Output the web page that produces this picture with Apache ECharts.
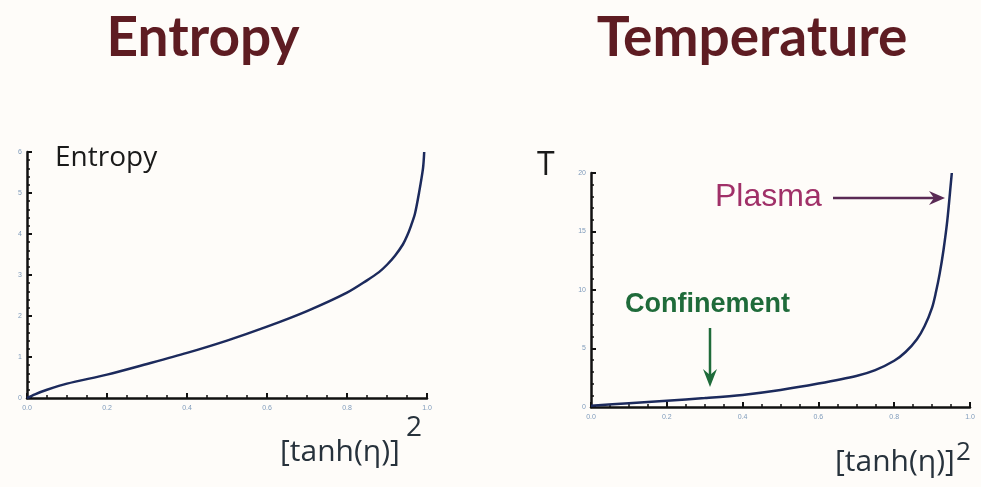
<!DOCTYPE html>
<html>
<head>
<meta charset="utf-8">
<script src="https://cdn.jsdelivr.net/npm/echarts@6/dist/echarts.min.js"></script>
<style>
html,body{margin:0;padding:0;background:#fefcf9;}
#chart{width:981px;height:487px;}
</style>
</head>
<body>
<div id="chart"></div>
<script>
// ---- data ----
const entropyX = [0, 0.02, 0.05, 0.1, 0.2, 0.3, 0.4, 0.5, 0.6, 0.7, 0.8, 0.85, 0.88, 0.9, 0.92, 0.94, 0.95, 0.96, 0.97, 0.98, 0.99, 0.993];
const entropyY = [0, 0.09, 0.2, 0.35, 0.57, 0.83, 1.1, 1.4, 1.74, 2.12, 2.57, 2.87, 3.07, 3.25, 3.47, 3.75, 3.95, 4.2, 4.5, 5.0, 5.6, 6.0];
const tempX = [0, 0.1, 0.2, 0.3, 0.4, 0.5, 0.6, 0.7, 0.75, 0.8, 0.83, 0.86, 0.88, 0.9, 0.91, 0.92, 0.93, 0.94, 0.95, 0.952];
const tempY = [0.1, 0.32, 0.54, 0.76, 1.03, 1.45, 2.0, 2.65, 3.15, 3.95, 4.7, 5.8, 6.9, 8.5, 9.8, 11.4, 13.4, 15.9, 19.3, 20];
const xTickLabels = ['0.0', '0.2', '0.4', '0.6', '0.8', '1.0'];
const titles = ['Entropy', 'Temperature'];
const xName = '[tanh(η)]';

const chart = echarts.init(document.getElementById('chart'), null, {renderer: 'canvas'});

function xAxisCfg(gridIndex) {
  return {
    type: 'value', gridIndex: gridIndex, min: 0, max: 1, interval: 0.2,
    axisLine: {show: true, onZero: false, lineStyle: {color: '#111', width: 2.5}},
    axisTick: {show: true, inside: true, length: 5, lineStyle: {color: '#111', width: 2}},
    minorTick: {show: true, splitNumber: 4, length: 3, lineStyle: {color: '#111', width: 1.5}},
    splitLine: {show: false},
    axisLabel: {fontSize: 7, color: '#7f9bbb', margin: 7,
      formatter: function (v) { return xTickLabels[Math.round(v / 0.2)]; }}
  };
}
function yAxisCfg(gridIndex, max, interval, minorSplit) {
  return {
    type: 'value', gridIndex: gridIndex, min: 0, max: max, interval: interval,
    axisLine: {show: true, onZero: false, lineStyle: {color: '#111', width: 2.5}},
    axisTick: {show: true, inside: true, length: 5, lineStyle: {color: '#111', width: 2}},
    minorTick: {show: true, splitNumber: minorSplit, length: 3, lineStyle: {color: '#111', width: 1.5}},
    splitLine: {show: false},
    axisLabel: {fontSize: 7, color: '#7f9bbb', margin: 5}
  };
}

const curveStyle = {color: '#1c2a5c', width: 2.5};

chart.setOption({
  backgroundColor: '#fefcf9',
  animation: false,
  grid: [
    {left: 27, right: 554, top: 152, bottom: 89},
    {left: 591, right: 11, top: 173, bottom: 80}
  ],
  xAxis: [xAxisCfg(0), xAxisCfg(1)],
  yAxis: [yAxisCfg(0, 6, 1, 5), yAxisCfg(1, 20, 5, 5)],
  series: [
    {type: 'line', xAxisIndex: 0, yAxisIndex: 0, showSymbol: false, smooth: 0.3,
     lineStyle: curveStyle, data: entropyX.map((x, i) => [x, entropyY[i]])},
    {type: 'line', xAxisIndex: 1, yAxisIndex: 1, showSymbol: false, smooth: 0.3,
     lineStyle: curveStyle, data: tempX.map((x, i) => [x, tempY[i]])}
  ],
  graphic: [
    {type: 'text', style: {text: titles[0], x: 203, y: 38, align: 'center', verticalAlign: 'middle',
      font: 'bold 55px Lato', fill: '#5e1c22'}},
    {type: 'text', style: {text: titles[1], x: 752, y: 38, align: 'center', verticalAlign: 'middle',
      font: 'bold 55px Lato', fill: '#5e1c22'}},
    {type: 'text', style: {text: 'Entropy', x: 55, y: 158, align: 'left', verticalAlign: 'middle',
      font: '28px "Open Sans"', fill: '#1a1a1a'}},
    {type: 'text', style: {text: 'T', x: 537, y: 166, align: 'left', verticalAlign: 'middle',
      font: '32px "Open Sans"', fill: '#1a1a1a'}},
    {type: 'text', style: {text: 'Plasma', x: 715, y: 197, align: 'left', verticalAlign: 'middle',
      font: '32px "Liberation Sans"', fill: '#a03068'}},
    {type: 'line', shape: {x1: 833, y1: 198, x2: 935, y2: 198}, style: {stroke: '#5a2a55', lineWidth: 2.5}},
    {type: 'polygon', shape: {points: [[945, 198], [929, 191], [934, 198], [929, 205]]}, style: {fill: '#5a2a55'}},
    {type: 'text', style: {text: 'Confinement', x: 625, y: 305, align: 'left', verticalAlign: 'middle',
      font: 'bold 27px "Liberation Sans"', fill: '#1f6b3a'}},
    {type: 'line', shape: {x1: 710, y1: 328, x2: 710, y2: 376}, style: {stroke: '#1f6b3a', lineWidth: 2.5}},
    {type: 'polygon', shape: {points: [[710, 387], [703, 369], [710, 375], [717, 369]]}, style: {fill: '#1f6b3a'}},
    {type: 'text', style: {text: xName, x: 280, y: 452, align: 'left', verticalAlign: 'middle',
      font: '30px "Open Sans"', fill: '#27323c'}},
    {type: 'text', style: {text: '2', x: 406, y: 428, align: 'left', verticalAlign: 'middle',
      font: '28px "Open Sans"', fill: '#27323c'}},
    {type: 'text', style: {text: xName, x: 835, y: 462, align: 'left', verticalAlign: 'middle',
      font: '30px "Open Sans"', fill: '#27323c'}},
    {type: 'text', style: {text: '2', x: 956, y: 453, align: 'left', verticalAlign: 'middle',
      font: '26px "Open Sans"', fill: '#27323c'}}
  ]
});
</script>
</body>
</html>
